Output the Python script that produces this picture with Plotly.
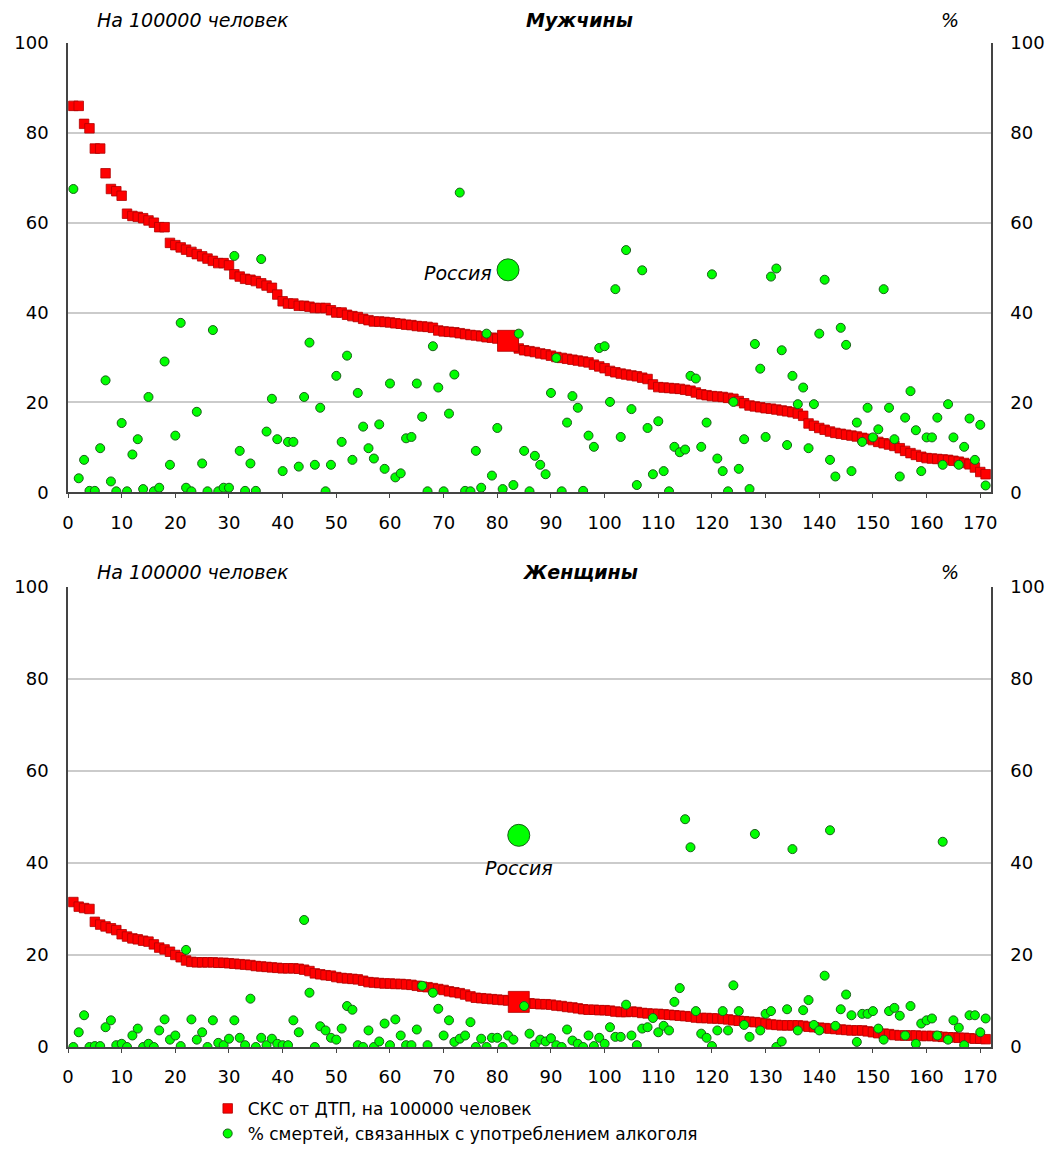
import plotly.graph_objects as go

# ---------------- DATA ----------------
x_index = list(range(1, 172))

# Men: road-traffic deaths per 100000 (sorted descending)
men_rtd = [86, 86, 82, 81, 76.5, 76.5, 71, 67.5, 67, 66,
           62, 61.5, 61.3, 61, 60.5, 60, 59, 59, 55.5, 55,
           54.5, 54, 53.5, 53, 52.5, 52, 51.5, 51, 51, 50.5,
           48.5, 48, 47.5, 47.3, 47, 46.5, 46, 45.5, 44, 42.5,
           42, 42, 41.5, 41.5, 41.3, 41, 41, 41, 40.5, 40,
           40, 39.5, 39.2, 39, 38.6, 38.3, 38, 38, 37.9, 37.8,
           37.6, 37.5, 37.3, 37.2, 37, 36.9, 36.8, 36.6, 36, 35.8,
           35.7, 35.6, 35.4, 35.2, 35, 34.9, 34.7, 34.5, 34.4, 34.2,
           34, 33.7, 33, 32, 31.6, 31.4, 31.2, 30.9, 30.7, 30.4,
           30.1, 29.9, 29.7, 29.5, 29.3, 29.1, 28.9, 28.4, 28, 27.6,
           27, 26.7, 26.4, 26.2, 26, 25.8, 25.5, 25.2, 24, 23.4,
           23.3, 23.2, 23.1, 23, 22.8, 22.6, 22.2, 21.8, 21.6, 21.4,
           21.3, 21.2, 21, 20.8, 20.3, 19.8, 19.3, 19.1, 18.9, 18.7,
           18.6, 18.4, 18.2, 18, 17.8, 17.5, 17, 15.3, 14.8, 14.3,
           13.9, 13.5, 13.2, 13, 12.8, 12.6, 12.4, 12.1, 11.9, 11.6,
           11.2, 10.9, 10.6, 10.3, 9.8, 9.2, 8.7, 8.3, 7.9, 7.6,
           7.5, 7.4, 7.3, 7.2, 7, 6.8, 6.5, 6.2, 5.5, 4.5,
           4]

# Men: % of deaths related to alcohol
men_alc = [67.5, 3.1, 7.2, 0.3, 0.3, 9.8, 24.9, 2.4, 0.2, 15.4,
           0.2, 8.4, 11.8, 0.7, 21.2, 0.2, 1, 29.1, 6.1, 12.6,
           37.7, 1, 0.2, 17.9, 6.4, 0.2, 36.1, 0.2, 1, 1,
           52.6, 9.2, 0.3, 6.4, 0.3, 51.9, 13.5, 20.8, 11.8, 4.7,
           11.2, 11.2, 5.7, 21.2, 33.3, 6.1, 18.8, 0.2, 6.1, 25.9,
           11.2, 30.4, 7.2, 22.1, 14.6, 9.8, 7.5, 15.1, 5.2, 24.2,
           3.3, 4.2, 12, 12.3, 24.2, 16.8, 0.2, 32.5, 23.3, 0.2,
           17.5, 26.2, 66.7, 0.3, 0.2, 9.2, 1, 35.3, 3.7, 14.3,
           0.7, 49.5, 1.6, 35.3, 9.2, 0.2, 8.1, 6.1, 4, 22.1,
           29.9, 0.2, 15.5, 21.4, 18.8, 0.3, 12.6, 10.1, 32.1, 32.5,
           20.1, 45.2, 12.3, 53.9, 18.5, 1.6, 49.4, 14.3, 4, 15.8,
           4.7, 0.2, 10.1, 8.9, 9.5, 25.9, 25.3, 10.1, 15.5, 48.5,
           7.5, 4.7, 0.2, 20.1, 5.2, 11.8, 0.7, 33, 27.5, 12.3,
           48, 49.8, 31.6, 10.5, 25.9, 19.6, 23.3, 9.8, 19.6, 35.3,
           47.3, 7.2, 3.5, 36.6, 32.8, 4.7, 15.5, 11.2, 18.8, 12.2,
           14, 45.2, 18.8, 11.8, 3.5, 16.6, 22.5, 13.8, 4.7, 12.2,
           12.2, 16.6, 6.1, 19.6, 12.2, 6.1, 10.1, 16.4, 7.2, 15,
           1.5]

# Women: road-traffic deaths per 100000 (sorted descending)
women_rtd = [31.5, 30.5, 30.2, 30, 27.2, 26.6, 26.2, 25.8, 25.4, 24.5,
             24, 23.6, 23.4, 23.1, 22.9, 22.3, 21.6, 21.2, 20.7, 20,
             19.5, 18.8, 18.5, 18.4, 18.4, 18.4, 18.4, 18.3, 18.3, 18.2,
             18.1, 18, 17.9, 17.8, 17.6, 17.5, 17.4, 17.3, 17.2, 17.1,
             17.1, 17.1, 17, 16.8, 16.5, 16, 15.8, 15.6, 15.5, 15.2,
             15, 14.9, 14.8, 14.7, 14.4, 14.1, 14, 13.9, 13.8, 13.8,
             13.7, 13.7, 13.6, 13.5, 13.3, 13.1, 13, 12.8, 12.6, 12.4,
             12.1, 11.9, 11.7, 11.4, 11, 10.7, 10.6, 10.5, 10.4, 10.3,
             10.2, 10.1, 9.9, 9.8, 9.5, 9.5, 9.4, 9.3, 9.3, 9.2,
             9, 8.9, 8.7, 8.6, 8.4, 8.2, 8.1, 8.1, 8, 8,
             7.9, 7.7, 7.6, 7.6, 7.7, 7.6, 7.4, 7.3, 7.2, 7.2,
             7.1, 7, 6.9, 6.8, 6.7, 6.6, 6.4, 6.3, 6.3, 6.2,
             6.2, 6.1, 6, 5.8, 5.7, 5.6, 5.5, 5.4, 5.3, 5.1,
             4.9, 4.8, 4.7, 4.7, 4.7, 4.7, 4.6, 4.4, 4.3, 4.2,
             4.1, 4, 3.9, 3.8, 3.7, 3.6, 3.6, 3.6, 3.4, 3.2,
             3, 2.9, 2.8, 2.6, 2.5, 2.5, 2.5, 2.5, 2.4, 2.4,
             2.4, 2.3, 2.2, 2.1, 2.1, 2, 2, 1.9, 1.8, 1.8,
             1.7]

# Women: % of deaths related to alcohol
women_alc = [0, 3.2, 6.9, 0, 0.2, 0.2, 4.3, 5.8, 0.4, 0.7,
             0, 2.5, 4, 0, 0.7, 0, 3.6, 6, 1.6, 2.5,
             0.2, 21.1, 6, 1.6, 3.2, 0, 5.8, 0.9, 0.4, 1.8,
             5.8, 2, 0.4, 10.5, 0, 2, 0.4, 1.8, 0.7, 0.4,
             0.4, 5.8, 3.2, 27.6, 11.8, 0, 4.5, 3.6, 2, 1.6,
             4, 8.9, 8.1, 0.4, 0, 3.6, 0, 1.2, 5.1, 0.4,
             6, 2.5, 0.4, 0.4, 3.8, 13.3, 0.4, 11.8, 8.3, 2.5,
             5.8, 1.1, 1.8, 2.5, 5.4, 0, 1.8, 0, 2, 2,
             0, 2.5, 1.6, 46, 8.9, 2.9, 0.5, 1.6, 1.2, 1.9,
             0.4, 0, 3.8, 1.4, 0.7, 0, 2.5, 0.2, 2, 0.7,
             4.3, 2.2, 2.2, 9.2, 2.5, 0.4, 4, 4.3, 6.3, 3.2,
             4.6, 3.6, 9.8, 12.8, 49.5, 43.4, 7.8, 2.9, 2, 0.2,
             3.6, 7.8, 3.6, 13.4, 7.8, 4.8, 2.2, 46.3, 3.6, 7.2,
             7.8, 0, 1.2, 8.2, 43, 3.6, 8, 10.2, 4.8, 3.6,
             15.5, 47.1, 4.6, 8.2, 11.4, 6.9, 1.1, 7.2, 7.2, 7.8,
             4, 1.6, 7.8, 8.5, 6.8, 2.5, 8.9, 0.7, 5.1, 5.8,
             6.2, 2.5, 44.6, 1.6, 5.8, 4.2, 0.4, 6.9, 6.9, 3.2,
             6.2]

# Russia highlighted points
russia_label = "Россия"
russia_men_x, russia_men_rtd, russia_men_alc = 82, 33.7, 49.5
russia_women_x, russia_women_rtd, russia_women_alc = 84, 9.8, 46

x_ticks = list(range(0, 171, 10))
y_ticks = [0, 20, 40, 60, 80, 100]

legend_rtd = "СКС от ДТП, на 100000 человек"
legend_alc = "% смертей, связанных с употреблением алкоголя"
title_men = "Мужчины"
title_women = "Женщины"
left_unit = "На 100000 человек"
right_unit = "%"

for arr in (men_rtd, men_alc, women_rtd, women_alc):
    assert len(arr) == len(x_index), len(arr)

# ---------------- STYLE ----------------
W, H = 1057, 1164
L, R, T, B = 68, 993, 43, 1051          # plot-area pixel bounds
PW, PH = R - L, B - T
FONT = "DejaVu Sans, Liberation Sans, Arial, sans-serif"
RED, RED_EDGE = "#FF0000", "#B00000"
GREEN, GREEN_EDGE = "#00FF00", "#1A5E1A"
AXIS_C = "#444444"
GRID_C = "#CBCBCB"

def py2paper(py):
    return (B - py) / PH

def px2paper(px):
    return (px - L) / PW

top_dom = [py2paper(494), 1.0]
bot_dom = [0.0, py2paper(589)]

fig = go.Figure()

def add_panel(xa, ya_left, ya_right, rtd, alc, rx, rr, ra, show_legend):
    fig.add_trace(go.Scatter(
        x=x_index, y=rtd, mode="markers", name=legend_rtd,
        xaxis=xa, yaxis=ya_left, showlegend=show_legend, legendrank=1,
        marker=dict(symbol="square", size=9.5, color=RED,
                    line=dict(color=RED_EDGE, width=0.8))))
    fig.add_trace(go.Scatter(
        x=[rx], y=[rr], mode="markers", showlegend=False,
        xaxis=xa, yaxis=ya_left,
        marker=dict(symbol="square", size=21, color=RED,
                    line=dict(color=RED_EDGE, width=0.8))))
    fig.add_trace(go.Scatter(
        x=x_index, y=alc, mode="markers", name=legend_alc,
        xaxis=xa, yaxis=ya_right, showlegend=show_legend, legendrank=2,
        marker=dict(symbol="circle", size=9, color=GREEN,
                    line=dict(color=GREEN_EDGE, width=1))))
    fig.add_trace(go.Scatter(
        x=[rx], y=[ra], mode="markers", showlegend=False,
        xaxis=xa, yaxis=ya_right,
        marker=dict(symbol="circle", size=22, color=GREEN,
                    line=dict(color=GREEN_EDGE, width=1))))

add_panel("x", "y", "y2", men_rtd, men_alc,
          russia_men_x, russia_men_rtd, russia_men_alc, True)
add_panel("x2", "y3", "y4", women_rtd, women_alc,
          russia_women_x, russia_women_rtd, russia_women_alc, False)

tickfont = dict(family=FONT, size=18, color="#000000")

def xaxis_cfg(anchor):
    return dict(domain=[0, 1], anchor=anchor, range=[0, 172],
                tickvals=x_ticks, ticks="outside", ticklen=4,
                tickcolor=AXIS_C, showline=True, linecolor=AXIS_C,
                linewidth=1.5, showgrid=False, zeroline=False,
                tickfont=tickfont, ticklabelstandoff=9)

def yaxis_cfg(dom, anchor, side, overlay=None):
    d = dict(domain=dom, anchor=anchor, range=[0, 100], tickvals=y_ticks,
             side=side, showline=True, linecolor=AXIS_C, linewidth=1.5,
             zeroline=False, tickfont=tickfont, ticks="",
             ticklabelstandoff=14)
    if overlay:
        d.update(overlaying=overlay, showgrid=False)
    else:
        d.update(showgrid=True, gridcolor=GRID_C, gridwidth=1.5)
    return d

fig.update_layout(
    width=W, height=H,
    margin=dict(l=L, r=W - R, t=T, b=H - B),
    paper_bgcolor="white", plot_bgcolor="white",
    xaxis=xaxis_cfg("y"),
    xaxis2=xaxis_cfg("y3"),
    yaxis=yaxis_cfg(top_dom, "x", "left"),
    yaxis2=yaxis_cfg(top_dom, "x", "right", "y"),
    yaxis3=yaxis_cfg(bot_dom, "x2", "left"),
    yaxis4=yaxis_cfg(bot_dom, "x2", "right", "y3"),
    showlegend=True,
    legend=dict(x=px2paper(208), y=py2paper(1095), xanchor="left",
                yanchor="top", font=dict(family=FONT, size=17, color="#000"),
                bgcolor="rgba(0,0,0,0)", tracegroupgap=0, itemwidth=30),
)

ann = []
for py, title in ((20, title_men), (574, title_women)):
    ann.append(dict(text="<i>" + left_unit + "</i>", xref="paper", yref="paper",
                    x=px2paper(95), y=py2paper(py), xanchor="left",
                    yanchor="middle", showarrow=False,
                    font=dict(family=FONT, size=19, color="#000")))
    ann.append(dict(text="<b><i>" + title + "</i></b>", xref="paper",
                    yref="paper", x=px2paper(581), y=py2paper(py),
                    xanchor="center", yanchor="middle", showarrow=False,
                    font=dict(family=FONT, size=19, color="#000")))
    ann.append(dict(text="<i>" + right_unit + "</i>", xref="paper",
                    yref="paper", x=px2paper(952), y=py2paper(py),
                    xanchor="center", yanchor="middle", showarrow=False,
                    font=dict(family=FONT, size=19, color="#000")))

ann.append(dict(text="<i>" + russia_label + "</i>", xref="x", yref="y2",
                x=russia_men_x, y=russia_men_alc, xanchor="right",
                yanchor="middle", xshift=-14, yshift=-3, showarrow=False,
                font=dict(family=FONT, size=19, color="#000")))
ann.append(dict(text="<i>" + russia_label + "</i>", xref="x2", yref="y4",
                x=russia_women_x, y=russia_women_alc, xanchor="center",
                yanchor="middle", yshift=-33, showarrow=False,
                font=dict(family=FONT, size=19, color="#000")))

fig.update_layout(annotations=ann)

fig.write_html("out.html")
